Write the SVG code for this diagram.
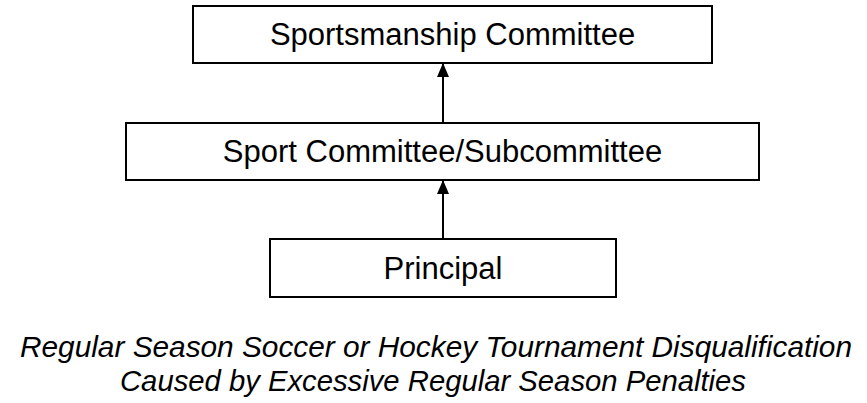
<svg xmlns="http://www.w3.org/2000/svg" width="867" height="403" viewBox="0 0 867 403">
<style>
.box{fill:#fff;stroke:#000;stroke-width:2}
.lbl{font-family:"Liberation Sans",Arial,sans-serif;font-size:31px;fill:#000;text-anchor:middle}
.cap{font-family:"Liberation Sans Narrow","Liberation Sans",Arial,sans-serif;font-style:italic;font-size:30px;fill:#000;text-anchor:middle}
.conn{stroke:#000;stroke-width:2;fill:none}
</style>
<defs>
<marker id="ah" viewBox="0 0 14 12" refX="14" refY="6" markerWidth="14" markerHeight="12" markerUnits="userSpaceOnUse" orient="auto">
<path d="M0,0 L14,6 L0,12 z" fill="#000"/>
</marker>
</defs>
<rect width="867" height="403" fill="#fff"/>
<g id="connectors">
<line class="conn" x1="443" y1="123" x2="443" y2="63" marker-end="url(#ah)"/>
<line class="conn" x1="443" y1="239" x2="443" y2="180" marker-end="url(#ah)"/>
</g>
<g id="sportsmanship">
<rect class="box" x="193" y="6" width="519" height="57"/>
<text class="lbl" x="452.5" y="45">Sportsmanship Committee</text>
</g>
<g id="sport-committee">
<rect class="box" x="126" y="123" width="633" height="57"/>
<text class="lbl" x="442.5" y="162">Sport Committee/Subcommittee</text>
</g>
<g id="principal">
<rect class="box" x="270" y="239" width="346" height="58"/>
<text class="lbl" x="443" y="279">Principal</text>
</g>
<g id="caption">
<text class="cap" x="436" y="357" textLength="832" lengthAdjust="spacingAndGlyphs">Regular Season Soccer or Hockey Tournament Disqualification</text>
<text class="cap" x="433" y="391" textLength="626" lengthAdjust="spacingAndGlyphs">Caused by Excessive Regular Season Penalties</text>
</g>
</svg>
